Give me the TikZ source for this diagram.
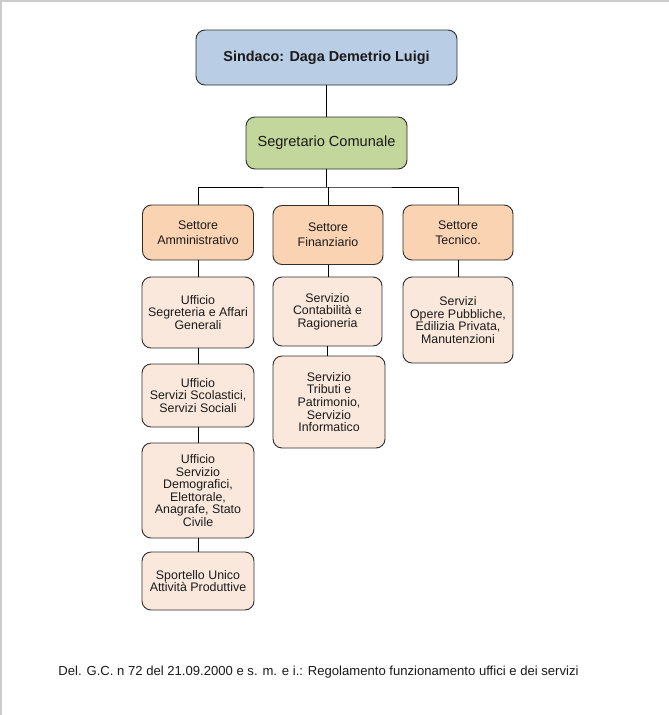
\documentclass[tikz,border=0pt]{standalone}
\usepackage{fontspec}
\setmainfont{Liberation Sans}
\definecolor{sindfill}{HTML}{B9CDE5}
\definecolor{segrfill}{HTML}{C3D69B}
\definecolor{setfill}{HTML}{FAD3B2}
\definecolor{uffill}{HTML}{FBE8DC}
\definecolor{boxline}{HTML}{2E2E2E}
\definecolor{txt}{HTML}{1A1A1A}
\definecolor{pageedge}{HTML}{CCCCCC}
\tikzset{
  orgbox/.style={draw=boxline, line width=0.9pt, rounded corners=9pt, align=center,
    inner sep=2pt, text=txt},
  topbox/.style={orgbox, fill=sindfill, font=\bfseries\fontsize{14.4}{16}\selectfont},
  secbox/.style={orgbox, fill=segrfill, font=\fontsize{14.6}{16}\selectfont},
  setbox/.style={orgbox, fill=setfill, font=\fontsize{12.4}{15}\selectfont},
  ufbox/.style={orgbox, fill=uffill, font=\fontsize{12.4}{12.6}\selectfont},
  link/.style={draw=black, line width=0.8pt}
}
\begin{document}
\begin{tikzpicture}[x=1pt,y=-1pt]
\useasboundingbox (0,0) rectangle (669,715);
\fill[white] (0,0) rectangle (669,715);
\draw[pageedge, line width=1.5pt] (0,1) -- (669,1);
\draw[pageedge, line width=1.5pt] (1,0) -- (1,715);

\node[topbox, minimum width=261pt, minimum height=55pt] (sind) at (326.5,57.5) {Sindaco: Daga Demetrio Luigi};
\node[secbox, minimum width=161pt, minimum height=52pt] (segr) at (326.5,143) {Segretario Comunale};

\node[setbox, minimum width=111pt, minimum height=55pt] (amm) at (198,232.5) {Settore\\Amministrativo};
\node[setbox, minimum width=110pt, minimum height=59pt] (fin) at (328,235) {Settore\\Finanziario};
\node[setbox, minimum width=110pt, minimum height=55pt] (tec) at (458,232.5) {Settore\\Tecnico.};

\node[ufbox, minimum width=112pt, minimum height=71pt] (uff1) at (198,312.5) {Ufficio\\Segreteria e Affari\\Generali};
\node[ufbox, minimum width=112pt, minimum height=63pt] (scol) at (198,395.5) {Ufficio\\Servizi Scolastici,\\Servizi Sociali};
\node[ufbox, minimum width=112pt, minimum height=95pt] (demo) at (198,490.5) {Ufficio\\Servizio\\Demografici,\\Elettorale,\\Anagrafe, Stato\\Civile};
\node[ufbox, minimum width=112pt, minimum height=58pt] (sport) at (198,581) {Sportello Unico\\Attività Produttive};

\node[ufbox, minimum width=109pt, minimum height=69pt] (cont) at (327.5,311.5) {Servizio\\Contabilità e\\Ragioneria};
\node[ufbox, minimum width=112pt, minimum height=92pt] (trib) at (329,402) {Servizio\\Tributi e\\Patrimonio,\\Servizio\\Informatico};

\node[ufbox, minimum width=110pt, minimum height=86pt] (opere) at (458,320) {Servizi\\Opere Pubbliche,\\Edilizia Privata,\\Manutenzioni};

\coordinate (bus) at (326.5,187);
\draw[link] (sind.south) -- (segr.north);
\draw[link] (segr.south) -- (bus);
\draw[link] (amm.north) |- (bus) -| (tec.north);
\draw[link] (fin.north) -- (fin.north |- bus);

\draw[link] (amm.south) -- (uff1.north);
\draw[link] (uff1.south) -- (scol.north);
\draw[link] (scol.south) -- (demo.north);
\draw[link] (demo.south) -- (sport.north);
\draw[link] (fin.south) -- (fin.south |- cont.north);
\draw[link] (cont.south) -- (cont.south |- trib.north);
\draw[link] (tec.south) -- (opere.north);

\node[text=txt, font=\fontsize{13.1}{15}\selectfont] (foot) at (318.5,672) {Del. G.C. n 72 del 21.09.2000 e s. m. e i.: Regolamento funzionamento uffici e dei servizi};
\end{tikzpicture}
\end{document}
